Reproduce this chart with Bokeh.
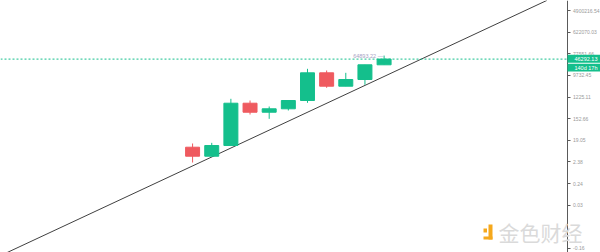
from bokeh.plotting import figure
from bokeh.models import Label, FixedTicker, Span, BoxAnnotation, Range1d
from bokeh.embed import file_html
from bokeh.resources import INLINE
from bokeh.core.properties import value

# Candle data (log-price chart)
periods = list(range(11))
opens = [9.86, 4.16, 11.6, 672, 283, 393, 871, 12400, 3436, 6531, 26760]
closes = [4.16, 11.6, 672, 283, 393, 871, 12400, 3436, 6531, 26760, 46292.13]
highs = [14.1, 15.0, 1026, 871, 490, 900, 18200, 15500, 12400, 26760, 64893.22]
lows = [2.27, 4.16, 11.6, 227, 150, 334, 698, 2944, 3436, 3926, 26760]

last_price = 46292.13
high_price = 64893.22
countdown = "140d 17h"

# Price-scale labels (top to bottom), with their step index down the scale
tick_labels = ["4900216.54", "622070.03", "77551.66", "9732.45", "1225.11",
               "152.66", "19.05", "2.38", "0.24", "0.03", "-0.16"]
tick_steps = [0, 1, 2, 3, 4, 5, 6, 7, 8, 9, 11]
tick_top = 4900216.54
tick_ratio = 7.97

# Trend line anchors
trend_x = [-10.1, 18.5]
trend_y = [10 ** -3.55, 10 ** 7.11]

UP = "#14bf8c"
DOWN = "#ef5a5f"
BRAND = "#f5a81c"

tick_values = [tick_top / tick_ratio ** s for s in tick_steps]

X0, X1 = -10.03, 21.30          # full-width time range
SCALE_X = 19.556                # where the price scale sits

p = figure(width=600, height=252, y_axis_type="log", y_axis_location="right",
           x_range=Range1d(X0, X1), y_range=Range1d(10 ** -3.393, 10 ** 7.107),
           output_backend="svg", toolbar_location=None,
           min_border_left=0, min_border_right=0, min_border_top=0, min_border_bottom=0)
p.xaxis.visible = False
p.xgrid.visible = False
p.ygrid.visible = False
p.outline_line_color = None
p.background_fill_color = "white"

# price scale drawn inside the plot area on the right
ax = p.yaxis[0]
ax.fixed_location = SCALE_X
ax.ticker = FixedTicker(ticks=tick_values)
ax.major_label_overrides = {v: t for v, t in zip(tick_values, tick_labels)}
ax.minor_tick_line_color = None
ax.major_tick_in = 0
ax.major_tick_out = 3
ax.major_tick_line_color = "#5a5a5a"
ax.axis_line_color = "#5a5a5a"
ax.major_label_text_font_size = "5px"
ax.major_label_text_color = "#9a9a9a"
ax.major_label_text_font = "Liberation Sans"
ax.major_label_standoff = 3

# trend line
p.line(trend_x, trend_y, line_color="#2a2a2a", line_width=0.9)

# last price dashed line
p.add_layout(Span(location=last_price, dimension="width", line_color=UP,
                  line_dash="2 2", line_width=1))

colors = [UP if c >= o else DOWN for o, c in zip(opens, closes)]
tops = [max(o, c) for o, c in zip(opens, closes)]
bottoms = [min(o, c) for o, c in zip(opens, closes)]
p.segment(periods, lows, periods, highs, line_color=colors, line_width=1)
p.vbar(x=periods, width=0.73, top=tops, bottom=bottoms, fill_color=colors, line_color=colors)

# high marker
p.text(x=[periods[-1] - 0.05], y=[high_price], text=[f"{high_price:.2f} \u2014"],
       text_align="right", text_baseline="middle", text_font_size="5.5px",
       text_color="#a7a2c4", text_font=value("Liberation Sans"))

# price tag and countdown on the scale
for top, bottom in [(197.7, 189.7), (188.7, 181.0)]:
    p.add_layout(BoxAnnotation(left=567, right=600, top=top, bottom=bottom,
                               left_units="screen", right_units="screen",
                               top_units="screen", bottom_units="screen",
                               fill_color=UP, fill_alpha=1, line_color=None))
p.add_layout(Label(x=574, x_units="screen", y=last_price, text=f"{last_price:.2f}",
                   text_align="left", text_baseline="middle", text_font_size="5.5px",
                   text_color="white", text_font="Liberation Sans"))
p.add_layout(Label(x=574, x_units="screen", y=last_price, y_offset=-9, text=countdown,
                   text_align="left", text_baseline="middle", text_font_size="5.5px",
                   text_color="white", text_font="Liberation Sans"))

# watermark
for left, right, top, bottom in [(488, 492, 28, 13), (483, 492, 16, 13), (483, 486.5, 24, 20)]:
    p.add_layout(BoxAnnotation(left=left, right=right, top=top, bottom=bottom,
                               left_units="screen", right_units="screen",
                               top_units="screen", bottom_units="screen",
                               fill_color=BRAND, fill_alpha=1, line_color=None))
p.add_layout(Label(x=498, y=20.5, x_units="screen", y_units="screen", text="金色财经",
                   text_font_size="21px", text_color="#dadada",
                   text_font="Noto Sans CJK SC", text_baseline="middle"))

open("out.html", "w").write(file_html(p, INLINE))
